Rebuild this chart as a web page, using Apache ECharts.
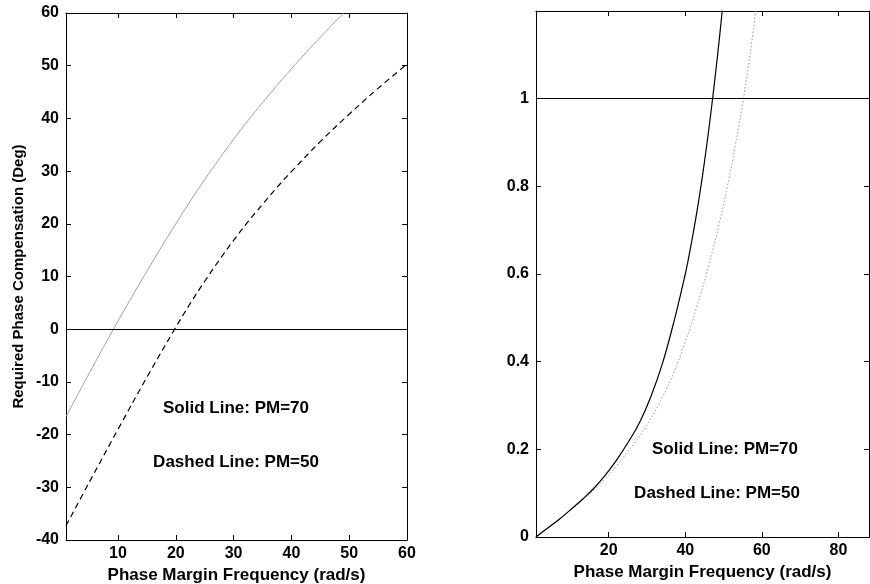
<!DOCTYPE html>
<html>
<head>
<meta charset="utf-8">
<script src="https://cdn.jsdelivr.net/npm/echarts@6/dist/echarts.min.js"></script>
<style>
html,body{margin:0;padding:0;background:#fff;}
#chart{width:870px;height:584px;}
</style>
</head>
<body>
<div id="chart"></div>
<script>
// ---- Left panel data: Required Phase Compensation (Deg) vs frequency ----
const leftX70 = [1, 5, 9.2, 12, 15, 17.5, 20, 22.5, 25, 27.5, 30, 32.5, 35, 37.5, 40, 42.5, 45, 48.6, 49.1];
const leftY70 = [-16.6, -8.4, 0, 5.4, 11.0, 15.6, 20.0, 24.3, 28.4, 32.3, 36.05, 39.6, 43.0, 46.25, 49.4, 52.45, 55.4, 59.5, 60.1];
const leftX50 = [1, 5, 10, 15, 19.8, 22.5, 25, 27.5, 30, 32.5, 35, 37.5, 40, 45, 50, 55, 60];
const leftY50 = [-37.3, -29.1, -19.0, -9.1, 0, 4.9, 9.1, 13.1, 16.85, 20.4, 23.7, 26.9, 29.9, 35.6, 40.8, 45.7, 50.3];
const leftRef = 0;
const leftXTicks = [10, 20, 30, 40, 50, 60];
const leftYTicks = [-40, -30, -20, -10, 0, 10, 20, 30, 40, 50, 60];

// ---- Right panel data ----
const rightX70 = [1, 4, 7, 10, 13, 16, 19, 22, 25, 28, 31, 34, 37, 40, 41, 42, 43, 44, 45, 46, 47, 48, 49, 50];
const rightY70 = [0, 0.02, 0.04, 0.062, 0.085, 0.11, 0.14, 0.175, 0.215, 0.26, 0.32, 0.395, 0.49, 0.6, 0.643, 0.69, 0.74, 0.795, 0.855, 0.92, 0.99, 1.065, 1.145, 1.23];
const rightX50 = [1, 4, 7, 10, 13, 16, 19, 22, 25, 28, 31, 34, 37, 40, 43, 46, 49, 51, 53, 55, 57, 58.5];
const rightY50 = [0, 0.02, 0.04, 0.061, 0.083, 0.106, 0.132, 0.162, 0.195, 0.23, 0.27, 0.318, 0.375, 0.445, 0.525, 0.615, 0.72, 0.8, 0.89, 0.99, 1.105, 1.205];
const rightRef = 1;
const rightXTicks = [20, 40, 60, 80];
const rightYTicks = [0, 0.2, 0.4, 0.6, 0.8, 1];

const xTitle = 'Phase Margin Frequency (rad/s)';
const yTitleLeft = 'Required Phase Compensation (Deg)';
const note70 = 'Solid Line: PM=70';
const note50 = 'Dashed Line: PM=50';

const zip = (xs, ys) => xs.map((x, i) => [x, ys[i]]);
const FONT = '"Liberation Sans", Arial, Helvetica, sans-serif';
const lineBlack = {show: true, onZero: false, lineStyle: {color: '#000', width: 1}};
const labelStyle = {color: '#000', fontSize: 16, fontWeight: 'bold', fontFamily: FONT};

function xAx(grid, min, max, ticks, pos, withLabel) {
  const a = {
    gridIndex: grid, type: 'value', min: min, max: max, position: pos,
    axisLine: lineBlack,
    axisTick: {show: true, inside: true, length: 5, customValues: ticks, lineStyle: {color: '#000', width: 1}},
    axisLabel: withLabel ? Object.assign({customValues: ticks, margin: 6}, labelStyle) : {show: false},
    splitLine: {show: false}
  };
  if (withLabel) {
    a.name = xTitle; a.nameLocation = 'middle'; a.nameGap = 27;
    a.nameTextStyle = {color: '#000', fontSize: 17, fontWeight: 'bold', fontFamily: FONT};
  }
  return a;
}
function yAx(grid, min, max, ticks, pos, withLabel, fmt) {
  return {
    gridIndex: grid, type: 'value', min: min, max: max, position: pos,
    axisLine: lineBlack,
    axisTick: {show: true, inside: true, length: 5, customValues: ticks, lineStyle: {color: '#000', width: 1}},
    axisLabel: withLabel ? Object.assign({customValues: ticks, margin: 7, formatter: fmt}, labelStyle) : {show: false},
    splitLine: {show: false}
  };
}

const chart = echarts.init(document.getElementById('chart'), null, {renderer: 'canvas'});
const yLeft = yAx(0, -40, 60, leftYTicks, 'left', true, v => String(v));
yLeft.name = yTitleLeft; yLeft.nameLocation = 'middle'; yLeft.nameGap = 40;
yLeft.nameTextStyle = {color: '#000', fontSize: 15, fontWeight: 'bold', fontFamily: FONT};

const refLine = (v) => ({
  silent: true, symbol: 'none', label: {show: false},
  lineStyle: {color: '#000', width: 1.2, type: 'solid'},
  data: [{yAxis: v}]
});

const noteStyle = (t) => ({text: t, fill: '#000', font: 'bold 17px ' + FONT, align: 'center', verticalAlign: 'middle', textAlign: 'center', textVerticalAlign: 'middle'});

chart.setOption({
  backgroundColor: '#fff',
  animation: false,
  grid: [
    {left: 66, top: 13, width: 341, height: 527, outerBoundsMode: 'none', containLabel: false},
    {left: 536, top: 11, width: 333, height: 526, outerBoundsMode: 'none', containLabel: false}
  ],
  xAxis: [
    xAx(0, 1, 60, leftXTicks, 'bottom', true),
    xAx(0, 1, 60, leftXTicks, 'top', false),
    xAx(1, 1, 88, rightXTicks, 'bottom', true),
    xAx(1, 1, 88, rightXTicks, 'top', false)
  ],
  yAxis: [
    yLeft,
    yAx(0, -40, 60, leftYTicks, 'right', false),
    yAx(1, 0, 1.2, rightYTicks, 'left', true, v => String(v)),
    yAx(1, 0, 1.2, rightYTicks, 'right', false)
  ],
  series: [
    {type: 'line', xAxisIndex: 0, yAxisIndex: 0, data: zip(leftX70, leftY70), showSymbol: false, smooth: 0.4,
     lineStyle: {color: '#a0a0a0', width: 1}, markLine: refLine(leftRef)},
    {type: 'line', xAxisIndex: 0, yAxisIndex: 0, data: zip(leftX50, leftY50), showSymbol: false, smooth: 0.4,
     lineStyle: {color: '#000', width: 1.2, type: [6, 4]}},
    {type: 'line', xAxisIndex: 2, yAxisIndex: 2, data: zip(rightX50, rightY50), showSymbol: false, smooth: 0.4,
     lineStyle: {color: '#999', width: 1, type: [1.5, 2]}},
    {type: 'line', xAxisIndex: 2, yAxisIndex: 2, data: zip(rightX70, rightY70), showSymbol: false, smooth: 0.4,
     lineStyle: {color: '#000', width: 1.2}, markLine: refLine(rightRef)}
  ],
  graphic: [
    {type: 'text', x: 236, y: 408, style: noteStyle(note70)},
    {type: 'text', x: 236, y: 462, style: noteStyle(note50)},
    {type: 'text', x: 725, y: 449, style: noteStyle(note70)},
    {type: 'text', x: 717, y: 493, style: noteStyle(note50)}
  ]
});
</script>
</body>
</html>
